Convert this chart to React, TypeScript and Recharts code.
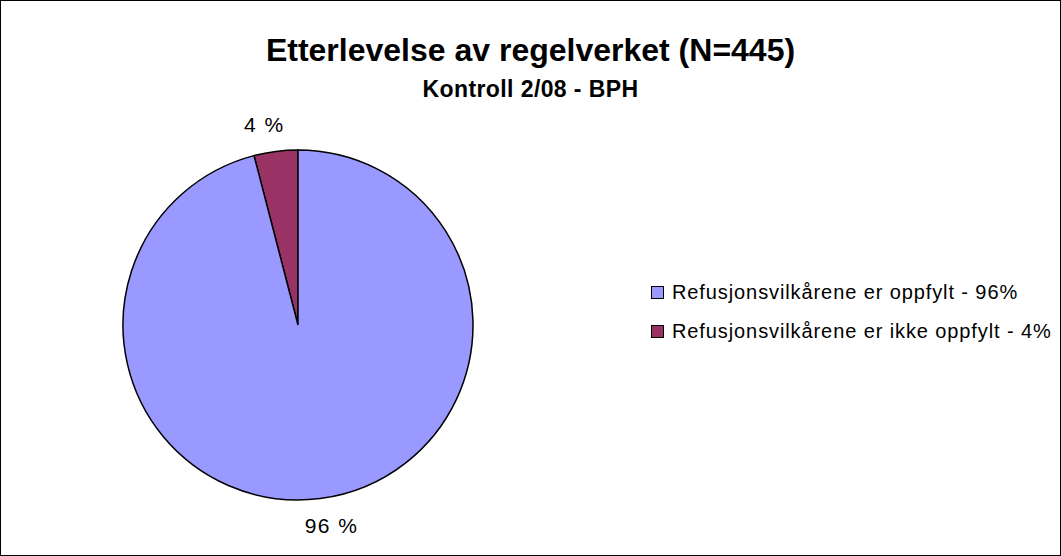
import { PieChart, Pie, Cell, Legend } from "recharts";

const categories = ["Refusjonsvilkårene er ikke oppfylt", "Refusjonsvilkårene er oppfylt"];
const counts = [18, 427];
const legendLabels = ["Refusjonsvilkårene er oppfylt - 96%", "Refusjonsvilkårene er ikke oppfylt - 4%"];
const colors = ["#993366", "#9999FF"];
const legendColors = ["#9999FF", "#993366"];

const FONT = "Arial, 'Liberation Sans', sans-serif";
const RAD = Math.PI / 180;

const data = categories.map((name, i) => ({ name, value: counts[i] }));

// labels sit outside the slice, a bit pushed away from the vertical axis
const renderLabel = (p: any) => {
  const r = p.outerRadius + 27;
  const cos = Math.cos(-p.midAngle * RAD);
  const x = p.cx + r * cos + Math.sign(cos) * 8;
  const y = p.cy + r * Math.sin(-p.midAngle * RAD);
  return (
    <text x={x} y={y} textAnchor="middle" dominantBaseline="central" fontSize={21} letterSpacing={1.5} fontFamily={FONT} fill="#000">
      {`${Math.round(p.percent * 100)} %`}
    </text>
  );
};

const renderLegend = () => (
  <div style={{ fontFamily: FONT, fontSize: 20, letterSpacing: 0.9, color: "#000" }}>
    {legendLabels.map((l, i) => (
      <div key={l} style={{ display: "flex", alignItems: "center", height: 39 }}>
        <span
          style={{
            display: "inline-block",
            width: 11,
            height: 11,
            background: legendColors[i],
            border: "1.5px solid #000",
            marginRight: 8,
          }}
        />
        {l}
      </div>
    ))}
  </div>
);

export default function App() {
  return (
    <div
      style={{
        position: "absolute",
        left: 0,
        top: 0,
        width: 1061,
        height: 556,
        border: "1px solid #000",
        boxSizing: "border-box",
        background: "#fff",
        fontFamily: FONT,
      }}
    >
      <div style={{ position: "absolute", left: 0, right: 0, top: 31, textAlign: "center", fontWeight: "bold", fontSize: 32, lineHeight: "36px" }}>
        Etterlevelse av regelverket (N=445)
      </div>
      <div style={{ position: "absolute", left: 0, right: 0, top: 75, textAlign: "center", fontWeight: "bold", fontSize: 23, lineHeight: "26px", letterSpacing: 0.4 }}>
        Kontroll 2/08 - BPH
      </div>
      <PieChart width={1059} height={554} style={{ position: "absolute", left: 0, top: 0 }}>
        <Pie
          data={data}
          dataKey="value"
          nameKey="name"
          cx={292}
          cy={319}
          outerRadius={175}
          startAngle={90}
          endAngle={450}
          stroke="#000"
          strokeWidth={1.5}
          label={renderLabel}
          labelLine={false}
          isAnimationActive={false}
        >
          {data.map((d, i) => (
            <Cell key={d.name} fill={colors[i]} />
          ))}
        </Pie>
        <Legend
          layout="vertical"
          content={renderLegend}
          wrapperStyle={{ left: 650, top: 272, width: 410 }}
        />
      </PieChart>
    </div>
  );
}
